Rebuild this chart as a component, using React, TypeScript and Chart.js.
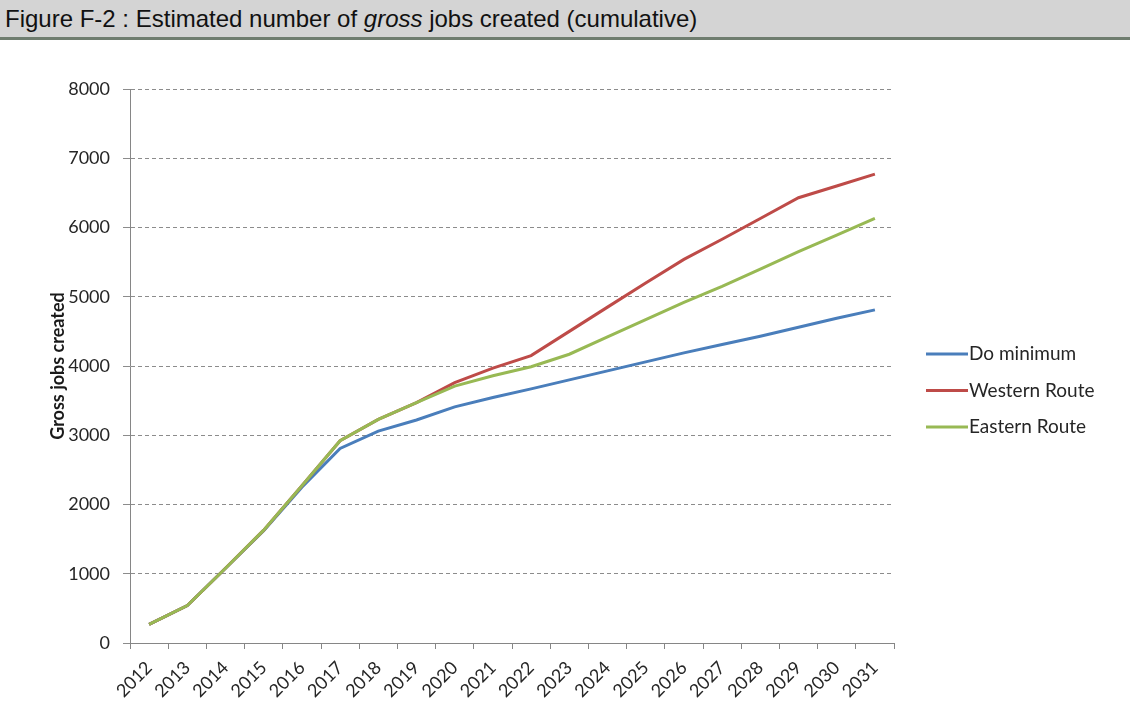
import React, { useEffect, useRef } from "react";
import { Chart, registerables } from "chart.js";

Chart.register(...registerables);

const years = [
  "2012", "2013", "2014", "2015", "2016", "2017", "2018", "2019", "2020", "2021",
  "2022", "2023", "2024", "2025", "2026", "2027", "2028", "2029", "2030", "2031",
];

const doMinimum = [270, 540, 1080, 1620, 2250, 2810, 3060, 3220, 3410, 3545, 3670, 3800, 3930, 4060, 4190, 4310, 4430, 4560, 4690, 4810];
const westernRoute = [270, 540, 1080, 1630, 2270, 2920, 3230, 3470, 3760, 3970, 4150, 4500, 4850, 5200, 5540, 5830, 6130, 6430, 6600, 6770];
const easternRoute = [270, 540, 1080, 1630, 2270, 2920, 3230, 3470, 3710, 3860, 3990, 4170, 4420, 4670, 4920, 5150, 5400, 5650, 5890, 6130];

const seriesNames = ["Do minimum", "Western Route", "Eastern Route"];
const seriesColors = ["#4a7ebb", "#be4b48", "#98b954"];

const yMin = 0;
const yMax = 8000;
const yStep = 1000;

const FONT = "Lato, 'Open Sans', sans-serif";

const legendPlugin = {
  id: "customLegend",
  afterDraw(chart: any) {
    const { ctx, chartArea } = chart;
    ctx.save();
    const x0 = chartArea.right + 32;
    chart.data.datasets.forEach((ds: any, i: number) => {
      const y = chartArea.top + 265 + i * 36.5;
      ctx.strokeStyle = ds.borderColor;
      ctx.lineWidth = 3;
      ctx.beginPath();
      ctx.moveTo(x0, y);
      ctx.lineTo(x0 + 42, y);
      ctx.stroke();
      ctx.fillStyle = "#262626";
      ctx.font = `19px ${FONT}`;
      ctx.textAlign = "left";
      ctx.textBaseline = "middle";
      ctx.fillText(ds.label, x0 + 43, y);
    });
    ctx.restore();
  },
};

export default function App() {
  const ref = useRef<HTMLCanvasElement>(null);

  useEffect(() => {
    document.body.style.margin = "0";
    const values = [doMinimum, westernRoute, easternRoute];
    const orders = [2, 1, 0];
    const chart = new Chart(ref.current!, {
      type: "line",
      data: {
        labels: years,
        datasets: values.map((v, i) => ({
          label: seriesNames[i],
          data: v,
          borderColor: seriesColors[i],
          backgroundColor: seriesColors[i],
          borderWidth: 3,
          pointRadius: 0,
          tension: 0,
          order: orders[i],
        })),
      },
      options: {
        animation: false,
        responsive: true,
        maintainAspectRatio: false,
        layout: { padding: { top: 48, right: 236, left: 47, bottom: 0 } },
        plugins: {
          legend: { display: false },
          tooltip: { enabled: false },
        },
        scales: {
          x: {
            type: "category",
            offset: true,
            afterFit: (s: any) => {
              s.height = 79;
            },
            grid: {
              offset: true,
              drawOnChartArea: false,
              drawTicks: true,
              tickLength: 6,
              color: "#868686",
            },
            border: { color: "#868686", width: 1 },
            ticks: {
              minRotation: 45,
              maxRotation: 45,
              autoSkip: false,
              padding: 8,
              color: "#262626",
              font: { family: FONT, size: 18 },
            },
          },
          y: {
            min: yMin,
            max: yMax,
            afterFit: (s: any) => {
              s.width = 83;
            },
            grid: {
              color: "#8c8c8c",
              tickLength: 7,
            },
            border: { color: "#868686", width: 1, dash: [4, 3] },
            ticks: {
              stepSize: yStep,
              padding: 13,
              color: "#262626",
              font: { family: FONT, size: 18 },
              callback: (v: any) => String(v),
            },
            title: {
              display: true,
              text: "Gross jobs created",
              color: "#1a1a1a",
              font: { family: FONT, size: 18, weight: "bold" },
              padding: 0,
            },
          },
        },
      },
      plugins: [legendPlugin],
    });
    return () => chart.destroy();
  }, []);

  return (
    <div style={{ position: "relative", width: 1130, height: 722, background: "#fff" }}>
      <div
        style={{
          position: "absolute",
          left: 0,
          top: 0,
          width: 1125,
          height: 37,
          background: "#d4d4d4",
          borderBottom: "3px solid #6f7d6f",
          fontFamily: "'Liberation Sans', Arial, sans-serif",
          fontSize: 24,
          lineHeight: "37px",
          color: "#111",
          paddingLeft: 5,
          boxSizing: "content-box",
          whiteSpace: "nowrap",
        }}
      >
        Figure F-2 : Estimated number of <i>gross</i> jobs created (cumulative)
      </div>
      <div style={{ position: "absolute", left: 0, top: 41, width: 1130, height: 681 }}>
        <canvas ref={ref} />
      </div>
    </div>
  );
}
